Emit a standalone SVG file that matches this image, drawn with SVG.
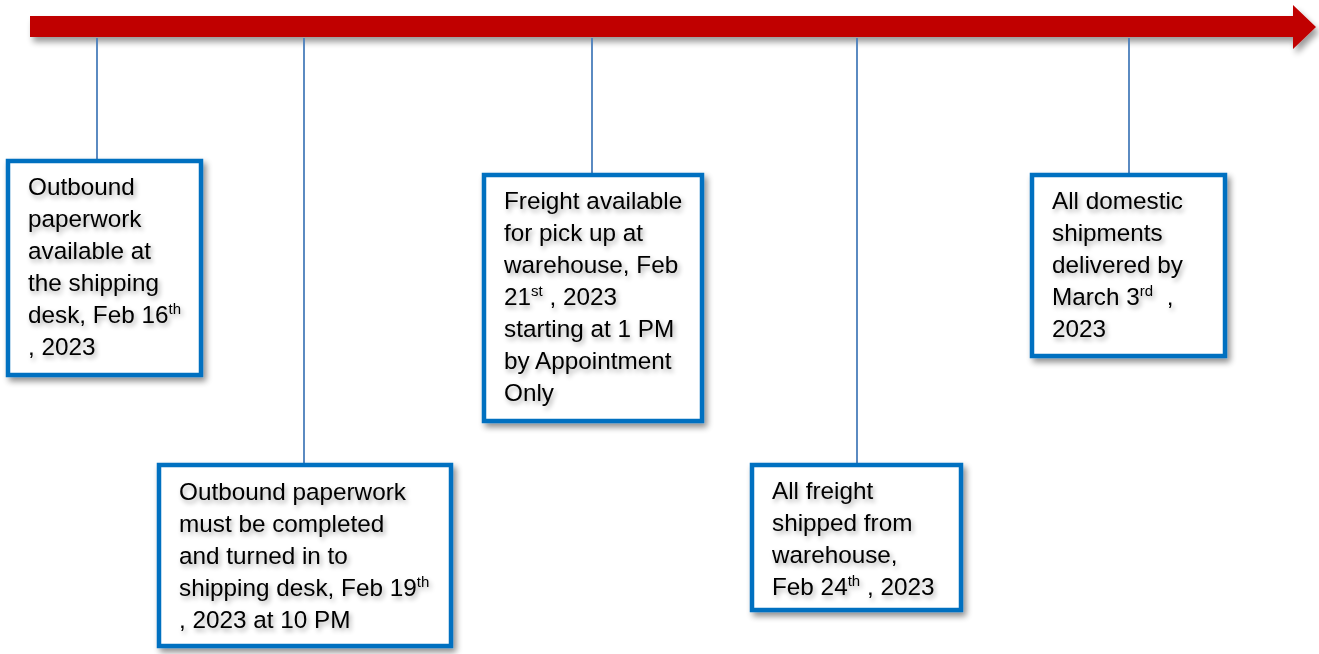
<svg xmlns="http://www.w3.org/2000/svg" width="1319" height="654" viewBox="0 0 1319 654">
<style>
.box{fill:#fff;stroke:#0070C0;stroke-width:4.5;}
.conn{stroke:#4A7EBB;stroke-width:1.8;fill:none;}
.t{font-family:"Liberation Sans",Arial,sans-serif;font-size:24.3px;fill:#000;}
.sup{font-size:15px;}
</style>
<defs>
<filter id="bs" x="-10%" y="-10%" width="125%" height="125%">
<feGaussianBlur in="SourceAlpha" stdDeviation="3"/>
<feOffset dx="3" dy="4" result="b"/>
<feComponentTransfer><feFuncA type="linear" slope="0.45"/></feComponentTransfer>
<feMerge><feMergeNode/><feMergeNode in="SourceGraphic"/></feMerge>
</filter>
<filter id="ts" x="-10%" y="-20%" width="125%" height="150%">
<feGaussianBlur in="SourceAlpha" stdDeviation="2.5"/>
<feOffset dx="2" dy="3" result="b"/>
<feComponentTransfer><feFuncA type="linear" slope="0.35"/></feComponentTransfer>
<feMerge><feMergeNode/><feMergeNode in="SourceGraphic"/></feMerge>
</filter>
<filter id="as" x="-5%" y="-50%" width="110%" height="250%">
<feGaussianBlur in="SourceAlpha" stdDeviation="3"/>
<feOffset dx="3" dy="5" result="b"/>
<feComponentTransfer><feFuncA type="linear" slope="0.4"/></feComponentTransfer>
<feMerge><feMergeNode/><feMergeNode in="SourceGraphic"/></feMerge>
</filter>
</defs>

<g id="timeline-arrow">
<polygon points="30,16 1293,16 1293,5 1316,27 1293,49 1293,37 30,37" fill="#C00000" filter="url(#as)"/>
</g>

<g id="connectors">
<line class="conn" x1="97" y1="38" x2="97" y2="159"/>
<line class="conn" x1="304" y1="38" x2="304" y2="463"/>
<line class="conn" x1="592" y1="38" x2="592" y2="173"/>
<line class="conn" x1="857" y1="38" x2="857" y2="463"/>
<line class="conn" x1="1129" y1="38" x2="1129" y2="173"/>
</g>

<g id="node1">
<rect class="box" x="8" y="161" width="193" height="214" filter="url(#bs)"/>
<text class="t" filter="url(#ts)">
<tspan x="28" y="195">Outbound</tspan>
<tspan x="28" y="227">paperwork</tspan>
<tspan x="28" y="259">available at</tspan>
<tspan x="28" y="291">the shipping</tspan>
<tspan x="28" y="323">desk, Feb 16<tspan class="sup" dy="-9">th</tspan></tspan>
<tspan x="28" y="355">, 2023</tspan>
</text>
</g>

<g id="node2">
<rect class="box" x="159" y="465" width="292" height="181" filter="url(#bs)"/>
<text class="t" filter="url(#ts)">
<tspan x="179" y="500">Outbound paperwork</tspan>
<tspan x="179" y="532">must be completed</tspan>
<tspan x="179" y="564">and turned in to</tspan>
<tspan x="179" y="596">shipping desk, Feb 19<tspan class="sup" dy="-9">th</tspan></tspan>
<tspan x="179" y="628">, 2023 at 10 PM</tspan>
</text>
</g>

<g id="node3">
<rect class="box" x="484" y="175" width="218" height="246" filter="url(#bs)"/>
<text class="t" filter="url(#ts)">
<tspan x="504" y="209">Freight available</tspan>
<tspan x="504" y="241">for pick up at</tspan>
<tspan x="504" y="273">warehouse, Feb</tspan>
<tspan x="504" y="305">21<tspan class="sup" dy="-9">st</tspan><tspan dy="9"> , 2023</tspan></tspan>
<tspan x="504" y="337">starting at 1 PM</tspan>
<tspan x="504" y="369">by Appointment</tspan>
<tspan x="504" y="401">Only</tspan>
</text>
</g>

<g id="node4">
<rect class="box" x="752" y="465" width="209" height="145" filter="url(#bs)"/>
<text class="t" filter="url(#ts)">
<tspan x="772" y="499">All freight</tspan>
<tspan x="772" y="531">shipped from</tspan>
<tspan x="772" y="563">warehouse,</tspan>
<tspan x="772" y="595">Feb 24<tspan class="sup" dy="-9">th</tspan><tspan dy="9"> , 2023</tspan></tspan>
</text>
</g>

<g id="node5">
<rect class="box" x="1032" y="175" width="193" height="181" filter="url(#bs)"/>
<text class="t" filter="url(#ts)" xml:space="preserve">
<tspan x="1052" y="209">All domestic</tspan>
<tspan x="1052" y="241">shipments</tspan>
<tspan x="1052" y="273">delivered by</tspan>
<tspan x="1052" y="305">March 3<tspan class="sup" dy="-9">rd</tspan><tspan dy="9">  ,</tspan></tspan>
<tspan x="1052" y="337">2023</tspan>
</text>
</g>
</svg>
